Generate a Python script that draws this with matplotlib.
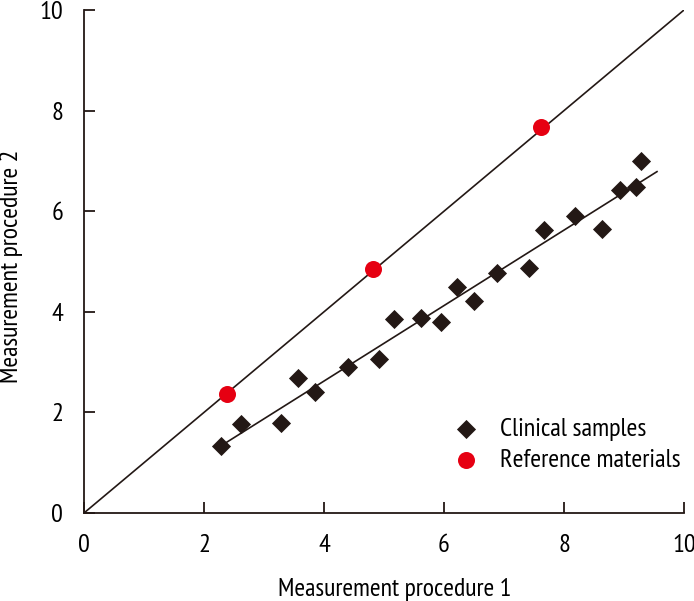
import numpy as np
import matplotlib
matplotlib.use("Agg")
import matplotlib.pyplot as plt

plt.rcParams['font.family'] = ['PT Sans Narrow', 'DejaVu Sans']

# clinical samples
clin_x = [2.28, 2.62, 3.28, 3.57, 3.85, 4.40, 4.92, 5.17, 5.62, 5.95,
          6.22, 6.50, 6.88, 7.42, 7.67, 8.18, 8.63, 8.93, 9.20, 9.28]
clin_y = [1.33, 1.77, 1.79, 2.68, 2.41, 2.90, 3.06, 3.86, 3.88, 3.80,
          4.49, 4.21, 4.77, 4.87, 5.63, 5.90, 5.65, 6.42, 6.48, 7.00]

# reference materials
ref_x = [2.38, 4.82, 7.62]
ref_y = [2.37, 4.85, 7.67]

ticks = [0, 2, 4, 6, 8, 10]

fig = plt.figure(figsize=(6.94, 6.01), dpi=100)
ax = fig.add_axes([84/694, 88/601, 600/694, 503/601])

# identity line
ax.plot([0, 10], [0, 10], color='#231815', lw=1.2, zorder=1)

# regression line for clinical samples
slope, icpt = np.polyfit(clin_x, clin_y, 1)
fx = np.array([min(clin_x), 9.55])
ax.plot(fx, slope * fx + icpt, color='#231815', lw=1.2, zorder=1)

ax.scatter(clin_x, clin_y, marker='D', s=95, color='#231815', lw=0,
           label='Clinical samples', zorder=3)
ax.scatter(ref_x, ref_y, marker='o', s=150, color='#e60012', lw=0,
           label='Reference materials', zorder=3)

ax.set_xlim(0, 10)
ax.set_ylim(0, 10)
ax.set_xticks(ticks)
ax.set_yticks(ticks)
ax.spines['top'].set_visible(False)
ax.spines['right'].set_visible(False)
for s in ['left', 'bottom']:
    ax.spines[s].set_linewidth(1.3)
    ax.spines[s].set_color('#231815')
ax.tick_params(direction='in', length=8, width=1.3, color='#231815',
               labelsize=19, pad=15)
ax.set_xlabel('Measurement procedure 1', fontsize=18.5)
ax.xaxis.set_label_coords(0.518, -0.13)
ax.set_ylabel('Measurement procedure 2', fontsize=18.5)
ax.yaxis.set_label_coords(-0.102, 0.49)

ax.legend(loc='lower right', bbox_to_anchor=(1.012, 0.06), frameon=False,
          fontsize=19, handletextpad=0.3, labelspacing=0.3, borderaxespad=0)

fig.savefig('out.png', dpi=100)
